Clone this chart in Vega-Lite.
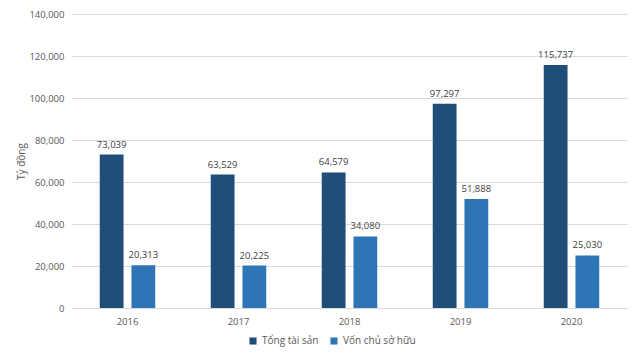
{
  "$schema": "https://vega.github.io/schema/vega-lite/v6.json",
  "autosize": {"type": "none"},
  "width": 555,
  "height": 294,
  "padding": {"left": 72, "top": 14, "right": 13, "bottom": 50},
  "background": "white",
  "config": {
    "view": {"stroke": null},
    "font": "Open Sans",
    "axis": {"labelFont": "Open Sans", "titleFont": "Open Sans", "labelColor": "#595959", "titleColor": "#595959"}
  },
  "data": {
    "values": [
      {"year": "2016", "series": "Tổng tài sản", "value": 73039},
      {"year": "2016", "series": "Vốn chủ sở hữu", "value": 20313},
      {"year": "2017", "series": "Tổng tài sản", "value": 63529},
      {"year": "2017", "series": "Vốn chủ sở hữu", "value": 20225},
      {"year": "2018", "series": "Tổng tài sản", "value": 64579},
      {"year": "2018", "series": "Vốn chủ sở hữu", "value": 34080},
      {"year": "2019", "series": "Tổng tài sản", "value": 97297},
      {"year": "2019", "series": "Vốn chủ sở hữu", "value": 51888},
      {"year": "2020", "series": "Tổng tài sản", "value": 115737},
      {"year": "2020", "series": "Vốn chủ sở hữu", "value": 25030}
    ]
  },
  "encoding": {
    "x": {
      "field": "year", "type": "nominal",
      "scale": {"paddingInner": 0.5, "paddingOuter": 0.25},
      "axis": {"title": null, "labelAngle": 0, "ticks": false, "domainColor": "#D9D9D9", "labelPadding": 8, "labelFontSize": 9.5}
    },
    "xOffset": {"field": "series", "type": "nominal", "scale": {"paddingInner": 0.25, "domain": ["Tổng tài sản", "Vốn chủ sở hữu"]}},
    "y": {
      "field": "value", "type": "quantitative",
      "scale": {"domain": [0, 140000], "nice": false},
      "axis": {"title": "Tỷ đồng", "titleFontSize": 10, "titleFontWeight": "normal", "titlePadding": 2, "values": [0, 20000, 40000, 60000, 80000, 100000, 120000, 140000], "labelOverlap": false, "format": ",d", "ticks": false, "domain": false, "gridColor": "#D9D9D9", "labelPadding": 8, "labelFontSize": 9.5}
    }
  },
  "layer": [
    {
      "mark": {"type": "bar"},
      "encoding": {
        "color": {
          "field": "series", "type": "nominal",
          "scale": {"domain": ["Tổng tài sản", "Vốn chủ sở hữu"], "range": ["#1F4E79", "#2E75B6"]},
          "legend": {"title": null, "orient": "none", "legendX": 176, "legendY": 322, "direction": "horizontal", "symbolType": "square", "symbolSize": 50, "labelFontSize": 10, "labelColor": "#595959", "labelFont": "Open Sans", "columnPadding": 10, "symbolStrokeWidth": 0}
        }
      }
    },
    {
      "mark": {"type": "text", "baseline": "bottom", "dy": -5, "fontSize": 9.5, "color": "#404040"},
      "encoding": {"text": {"field": "value", "type": "quantitative", "format": ",d"}}
    }
  ]
}
